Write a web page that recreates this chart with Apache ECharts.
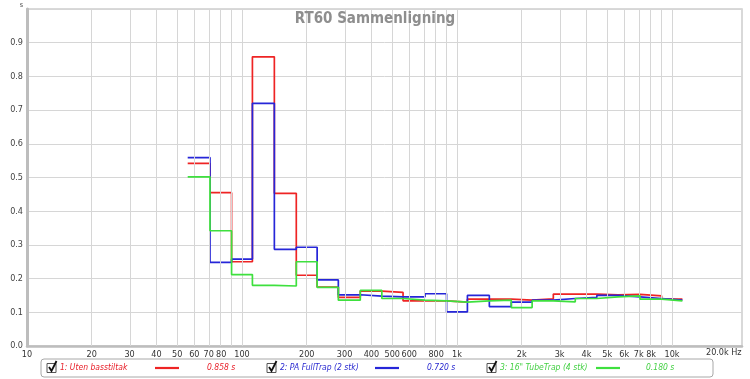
<!DOCTYPE html>
<html>
<head>
<meta charset="utf-8">
<script src="https://cdn.jsdelivr.net/npm/echarts@6/dist/echarts.min.js"></script>
<style>html,body{margin:0;padding:0;background:#fff}#c{width:750px;height:379px}</style>
</head>
<body>
<div id="c"></div>
<script>
// 1/3-octave band centre frequencies (Hz)
const bandCenters = [63, 80, 100, 125, 160, 200, 250, 315, 400, 500, 630, 800, 1000, 1250, 1600, 2000, 2500, 3150, 4000, 5000, 6300, 8000, 10000];
// RT60 (s) per band
const utenBasstiltak = [0.542, 0.455, 0.250, 0.858, 0.453, 0.210, 0.175, 0.144, 0.163, 0.159, 0.134, 0.134, 0.130, 0.139, 0.139, 0.136, 0.140, 0.154, 0.154, 0.152, 0.153, 0.149, 0.139];
const paFullTrap     = [0.559, 0.248, 0.258, 0.720, 0.287, 0.293, 0.196, 0.152, 0.148, 0.146, 0.146, 0.155, 0.101, 0.150, 0.117, 0.130, 0.136, 0.141, 0.144, 0.150, 0.146, 0.141, 0.136];
const tubeTrap       = [0.502, 0.342, 0.212, 0.180, 0.178, 0.250, 0.174, 0.136, 0.165, 0.141, 0.136, 0.134, 0.130, 0.134, 0.136, 0.114, 0.134, 0.131, 0.141, 0.146, 0.149, 0.139, 0.134];

const seriesNames = ['1: Uten basstiltak', '2: PA FullTrap (2 stk)', '3: 16" TubeTrap (4 stk)'];
const legendValues = ['0.858 s', '0.720 s', '0.180 s'];

const xLabelFreqs = [10, 20, 30, 40, 50, 60, 70, 80, 100, 200, 300, 400, 500, 600, 800, 1000, 2000, 3000, 4000, 5000, 6000, 7000, 8000, 10000];
const xLabelTexts = ['10', '20', '30', '40', '50', '60', '70', '80', '100', '200', '300', '400', '500', '600', '800', '1k', '2k', '3k', '4k', '5k', '6k', '7k', '8k', '10k'];
const gridFreqs = [20, 30, 40, 50, 60, 70, 80, 90, 100, 200, 300, 400, 500, 600, 700, 800, 900, 1000, 2000, 3000, 4000, 5000, 6000, 7000, 8000, 9000, 10000];
const yTicks = [0, 0.1, 0.2, 0.3, 0.4, 0.5, 0.6, 0.7, 0.8, 0.9];

const colors = ['#ee2424', '#2626d8', '#3ee03e'];
const textColors = ['#e8202a', '#2a2ad0', '#44d044'];

const L = bandCenters.map(f => Math.log10(f));
function stepData(values) {
  const n = L.length;
  const pts = [];
  for (let i = 0; i < n; i++) {
    const left = i === 0 ? L[0] - (L[1] - L[0]) / 2 : (L[i - 1] + L[i]) / 2;
    pts.push([left, values[i]]);
  }
  pts.push([L[n - 1] + (L[n - 1] - L[n - 2]) / 2, values[n - 1]]);
  return pts;
}

const chart = echarts.init(document.getElementById('c'), null, {renderer: 'canvas'});
const font = 'DejaVu Sans Condensed, Liberation Sans Narrow, DejaVu Sans, sans-serif';

const graphic = [];
graphic.push({type: 'rect', shape: {x: 41, y: 359, width: 672, height: 18, r: 3}, style: {fill: '#fff', stroke: '#a8a8a8', lineWidth: 1}, z: 10});
const itemX = [47, 267, 487];
const lineX = [155, 375, 596];
const valX = [207, 427, 646];
for (let i = 0; i < 3; i++) {
  const x = itemX[i];
  graphic.push({type: 'rect', shape: {x: x, y: 363.5, width: 9, height: 9}, style: {fill: '#fff', stroke: '#555', lineWidth: 1}, z: 11});
  graphic.push({type: 'polyline', shape: {points: [[x + 2, 367], [x + 4.5, 371], [x + 9.5, 361]]}, style: {stroke: '#111', lineWidth: 1.8, fill: null}, z: 12});
  graphic.push({type: 'text', x: x + 13, y: 368, style: {text: seriesNames[i], fill: textColors[i], font: 'italic 8.5px ' + font, textVerticalAlign: 'middle'}, z: 11});
  graphic.push({type: 'line', shape: {x1: lineX[i], y1: 368, x2: lineX[i] + 24, y2: 368}, style: {stroke: colors[i], lineWidth: 2.2}, z: 11});
  graphic.push({type: 'text', x: valX[i], y: 368, style: {text: legendValues[i], fill: textColors[i], font: 'italic 8.5px ' + font, textVerticalAlign: 'middle'}, z: 11});
}
graphic.push({type: 'text', x: 706, y: 353, style: {text: '20.0k Hz', fill: '#333', font: '9px ' + font, textVerticalAlign: 'middle'}, z: 11});

const option = {
  animation: false,
  backgroundColor: '#fff',
  title: {
    text: 'RT60 Sammenligning', left: 'center', top: 7,
    textStyle: {fontSize: 15, color: '#8e8e8e', fontWeight: 'bold', fontFamily: font}
  },
  grid: {left: 27, right: 8, top: 9, bottom: 33, show: true, borderColor: '#cdcdcd', borderWidth: 1.5, backgroundColor: '#fff'},
  xAxis: {
    type: 'value', min: 1, max: 4.3257,
    axisLine: {show: true, onZero: false, lineStyle: {color: '#bdbdbd', width: 2.5}},
    axisTick: {show: false},
    splitLine: {show: false},
    axisLabel: {
      customValues: xLabelFreqs.map(f => Math.log10(f)),
      margin: 4, fontSize: 9, color: '#333', fontFamily: font,
      formatter: function (v) {
        const i = xLabelFreqs.findIndex(f => Math.abs(Math.log10(f) - v) < 1e-6);
        return i >= 0 ? xLabelTexts[i] : '';
      }
    }
  },
  yAxis: {
    type: 'value', min: 0, max: 1, interval: 0.1,
    axisLine: {show: true, lineStyle: {color: '#bdbdbd', width: 3}},
    axisTick: {show: false},
    splitLine: {show: true, lineStyle: {color: '#d6d6d6', width: 1}},
    axisLabel: {
      margin: 4, fontSize: 9, color: '#444', fontFamily: font,
      formatter: function (v) {
        if (Math.abs(v - 1) < 1e-6) return '{s|s}';
        const i = yTicks.findIndex(t => Math.abs(t - v) < 1e-6);
        return i >= 0 ? yTicks[i].toFixed(1) : '';
      },
      rich: {s: {fontSize: 7, color: '#444', padding: [0, 0, 8, 0]}}
    }
  },
  series: [
    {
      type: 'line', data: [], z: 1, silent: true,
      markLine: {
        silent: true, symbol: 'none', label: {show: false},
        lineStyle: {color: '#d6d6d6', width: 1, type: 'solid'},
        data: gridFreqs.map(f => ({xAxis: Math.log10(f)}))
      }
    },
    {name: seriesNames[0], type: 'line', step: 'end', symbol: 'none', z: 3, data: stepData(utenBasstiltak), lineStyle: {color: colors[0], width: 1.7}},
    {name: seriesNames[1], type: 'line', step: 'end', symbol: 'none', z: 4, data: stepData(paFullTrap), lineStyle: {color: colors[1], width: 1.7}},
    {name: seriesNames[2], type: 'line', step: 'end', symbol: 'none', z: 5, data: stepData(tubeTrap), lineStyle: {color: colors[2], width: 1.7}}
  ],
  graphic: graphic
};
chart.setOption(option);
</script>
</body>
</html>
